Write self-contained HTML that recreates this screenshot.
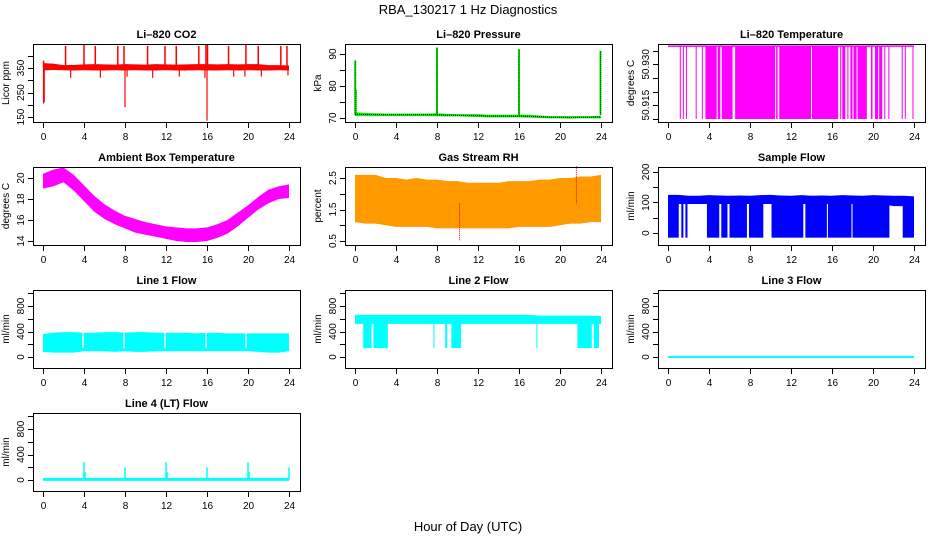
<!DOCTYPE html>
<html><head><meta charset="utf-8"><style>
html,body{margin:0;padding:0;background:#fff;}
svg{display:block;font-family:"Liberation Sans",Arial,sans-serif;}
</style></head><body>
<svg id="chart" width="936" height="540" viewBox="0 0 936 540" xmlns="http://www.w3.org/2000/svg">
<text x="468" y="14" text-anchor="middle" font-size="13">RBA_130217  1 Hz Diagnostics</text>
<text x="468" y="531" text-anchor="middle" font-size="13">Hour of Day (UTC)</text>
</svg>
<script>
// ---- data ----
const hours = [0,1,2,3,4,5,6,7,8,9,10,11,12,13,14,15,16,17,18,19,20,21,22,23,24];
const xTicks = [0,4,8,12,16,20,24];

const co2Lo = [340,342,341,340,341,340,340,341,340,341,340,340,341,340,340,341,340,340,341,340,341,340,340,341,340];
const co2Hi = [370,368,362,363,365,366,365,364,366,365,364,366,365,364,365,366,366,365,366,365,366,366,362,362,360];
const co2SpikeT = [0.05,2.2,4.0,5.1,7.3,7.9,10.2,11.9,13.0,15.2,15.9,16.05,18.1,19.8,21.0,23.2,23.8];
const co2SpikeV = [380,440,445,440,440,440,440,440,440,440,445,445,440,445,440,440,440];
const co2DipT = [0.05,0.12,8.0,16.0,2.7,5.6,8.2,10.7,13.3,15.8,18.6,19.7,21.3,23.9];
const co2DipV = [205,210,190,135,310,310,315,310,315,310,315,315,315,320];

const presLo = [70.6,70.6,70.6,70.6,70.6,70.6,70.6,70.6,70.5,70.5,70.5,70.4,70.3,70.2,70.2,70.2,70.2,70.1,70.0,69.9,69.9,69.8,69.9,69.9,69.9];
const presHi = [71.8,71.6,71.5,71.4,71.4,71.4,71.4,71.4,71.5,71.3,71.2,71.2,71.2,71.0,71.0,71.0,71.0,71.0,70.8,70.6,70.6,70.6,70.6,70.6,70.7];
const presSpikeT = [0.02,0.08,8.0,16.0,23.95];
const presSpikeV = [88,79,92,91.5,91];

const tempTop = 50.9367;
const tempBottom = 50.9099;
const tempBlocks = [[1.15,1.25],[1.45,1.55],[1.75,1.85],[2.7,2.75],[3.3,3.35],[3.65,4.75],[4.85,5.1],[5.25,6.3],[6.55,10.45],[10.55,10.7],[10.85,13.95],[14.05,16.6],[16.8,16.9],[17.0,17.3],[17.5,17.6],[17.8,18.0],[18.1,18.4],[18.5,19.4],[19.8,19.95],[20.2,20.5],[20.6,20.9],[21.1,21.2],[21.5,21.6],[22.8,22.9],[23.1,23.2],[23.85,23.95]];

const ambLo = [19.0,19.2,19.6,18.8,17.8,16.8,16.1,15.6,15.2,14.8,14.6,14.4,14.2,14.0,13.9,13.9,14.0,14.3,14.7,15.4,16.2,17.0,17.6,18.0,18.1];
const ambHi = [20.4,20.8,21.0,20.3,19.3,18.3,17.5,16.9,16.4,16.1,15.8,15.6,15.4,15.3,15.2,15.2,15.3,15.6,16.0,16.7,17.4,18.2,18.9,19.2,19.4];

const rhLo = [1.1,1.05,1.05,1.0,0.95,0.95,0.95,0.95,0.9,0.9,0.9,0.9,0.9,0.9,0.9,0.9,0.95,0.95,0.95,0.95,1.0,1.05,1.05,1.1,1.1];
const rhHi = [2.6,2.6,2.6,2.5,2.5,2.45,2.5,2.45,2.45,2.4,2.4,2.35,2.35,2.35,2.35,2.4,2.4,2.4,2.45,2.45,2.5,2.5,2.55,2.55,2.6];
const rhSpikeT = [10.2,21.6];
const rhSpikeV = [0.5,2.9];

const sfHi = [125,125,122,122,124,123,122,123,122,124,125,123,122,124,122,123,122,124,123,122,124,123,122,122,120];
const sfLo = [95,95,95,95,95,95,95,95,95,95,95,95,95,95,95,95,95,95,95,95,95,95,88,88,95];
const sfBursts = [[0,1.05],[1.3,1.5],[1.7,1.9],[3.8,5.0],[5.2,5.8],[6.0,7.7],[7.9,9.3],[10.1,13.2],[13.4,15.5],[15.6,17.9],[18.0,21.6],[22.9,24]];
const sfBurstLow = -15;

const l1Lo = [80,70,70,70,90,90,90,80,90,80,80,90,90,90,90,90,90,90,90,90,90,80,70,70,90];
const l1Hi = [360,380,390,390,380,380,390,390,380,390,390,380,380,380,380,370,380,380,370,370,370,370,370,370,370];
const l1Gaps = [3.9,7.9,11.9,15.9,19.8];

const l2Lo = [520,520,520,520,520,520,520,520,520,520,520,520,520,520,520,520,520,520,520,520,520,520,520,520,520];
const l2Hi = [660,660,660,660,660,660,660,660,660,660,660,660,660,660,660,660,660,660,650,650,650,650,650,650,640];
const l2Drops = [[0.8,1.6],[1.8,3.2],[7.65,7.7],[8.8,9.0],[9.4,10.35],[17.7,17.75],[21.7,23.1],[23.3,23.8]];
const l2DropLow = 140;

const l3Value = [0,0,0,0,0,0,0,0,0,0,0,0,0,0,0,0,0,0,0,0,0,0,0,0,0];

const l4Base = [10,10,10,10,10,10,10,10,10,10,10,10,10,10,10,10,10,10,10,10,10,10,10,10,10];
const l4SpikeT = [4.0,4.1,8.0,12.0,12.1,16.0,20.0,20.1,24.0];
const l4SpikeV = [280,130,200,280,130,200,280,130,200];

// ---- layout ----
const svg = document.getElementById('chart');
const NS = 'http://www.w3.org/2000/svg';
const colL = [33,345,658], rowT = [44,167,290,413], BW = 267, BH = 78;
function mk(tag, attrs, parent){
  const e = document.createElementNS(NS, tag);
  for (const k in attrs) e.setAttribute(k, attrs[k]);
  (parent||svg).appendChild(e);
  return e;
}
function panel(key, title, ylab, col, row, ylim, ticks, labels){
  const L = colL[col], T = rowT[row];
  const g = mk('g', {});
  
  
  const xs = h => L + 10 + h * 10.25;
  const ys = v => T + BH - (v - ylim[0]) / (ylim[1] - ylim[0]) * BH;
  const t = mk('text', {x: L + BW/2, y: T - 6, 'text-anchor': 'middle', 'font-size': 11, 'font-weight': 'bold'}, g);
  t.textContent = title;
  
  
  const yl = mk('text', {x: 0, y: 0, transform: `translate(${L-24},${T+BH/2}) rotate(-90)`, 'text-anchor': 'middle', 'font-size': 10}, g);
  yl.textContent = ylab;
  
  
  const plot = mk('g', {}, g);
  
  
  const ax = mk('g', {stroke: '#000', 'stroke-width': 1, fill: 'none'}, g);
  
  
  const box = mk('rect', {x: L+0.5, y: T+0.5, width: BW, height: BH}, ax);
  
  
  mk('line', {x1: xs(0), x2: xs(24), y1: T+BH+0.5, y2: T+BH+0.5}, ax);
  xTicks.forEach(v => {
    const x = Math.round(xs(v)) + 0.5;
    mk('line', {x1: x, x2: x, y1: T+BH, y2: T+BH+6}, ax);
    const tl = mk('text', {x: x, y: T+BH+18, 'text-anchor': 'middle', 'font-size': 10, fill: '#000', stroke: 'none'}, g);
    tl.textContent = v;
    
    
  });
  ticks.forEach(v => {
    const y = Math.round(ys(v)) + 0.5;
    mk('line', {x1: L-5, x2: L, y1: y, y2: y}, ax);
  });
  labels.forEach(v => {
    const y = ys(v);
    const tl = mk('text', {x: 0, y: 0, transform: `translate(${L-9},${y}) rotate(-90)`, 'text-anchor': 'middle', 'font-size': 10, fill: '#000', stroke: 'none'}, g);
    tl.textContent = v;
    
    
  });
  return {xs, ys, g: plot};
}
function band(p, lo, hi, fill, name){
  let pts = hours.map((h,i) => p.xs(h)+','+p.ys(hi[i]));
  pts = pts.concat(hours.slice().reverse().map((h,j) => p.xs(h)+','+p.ys(lo[hours.length-1-j])));
  const e = mk('polygon', {points: pts.join(' '), fill: fill}, p.g);
  
  
}
function vline(p, h, v0, v1, color, w, name, dash){
  const a = {x1: p.xs(h), x2: p.xs(h), y1: p.ys(v0), y2: p.ys(v1), stroke: color, 'stroke-width': w||1.2};
  if (dash) a['stroke-dasharray'] = dash;
  const e = mk('line', a, p.g);
  
  
}
function rectI(p, a, b, v0, v1, fill, name){
  const e = mk('rect', {x: p.xs(a), y: p.ys(v1), width: Math.max(1, p.xs(b)-p.xs(a)), height: p.ys(v0)-p.ys(v1), fill: fill}, p.g);
  
  
}

// CO2
const pC = panel('co2', 'Li\u2013820 CO2', 'Licor ppm', 0, 0, [129.6, 448], [150,200,250,300,350,400], [150,250,350]);
band(pC, co2Lo, co2Hi, '#ff0000', 'co2-band');
co2SpikeT.forEach((h,i) => vline(pC, h, 350, co2SpikeV[i], '#ff0000', 1.5, 'co2-spike'));
co2DipT.forEach((h,i) => vline(pC, h, 345, co2DipV[i], '#ff0000', 1.2, 'co2-dip'));

// Pressure
const pP = panel('pressure', 'Li\u2013820 Pressure', 'kPa', 1, 0, [68.75, 93.125], [70,75,80,85,90], [70,80,90]);
band(pP, presLo, presHi, '#00ee00', 'pressure-band');
presSpikeT.forEach((h,i) => { vline(pP, h, 71, presSpikeV[i], '#00ee00', 2, 'pressure-spike'); vline(pP, h, 71, presSpikeV[i], '#000', 0.8, 'pressure-spike-dots', '1,1'); });
{
  const pts = hours.map((h,i) => pP.xs(h)+','+pP.ys((presLo[i]+presHi[i])/2)).join(' ');
  const e = mk('polyline', {points: pts, fill: 'none', stroke: '#000', 'stroke-width': 1, 'stroke-dasharray': '1,1'}, pP.g);
  
  
}

// Li-820 temperature
const pT = panel('li820-temp', 'Li\u2013820 Temperature', 'degrees C', 2, 0, [50.9088, 50.9375], [50.910,50.915,50.920,50.925,50.930,50.935], ['50.915','50.930']);
{
  const e = mk('line', {x1: pT.xs(0), x2: pT.xs(24), y1: pT.ys(tempTop), y2: pT.ys(tempTop), stroke: '#ff00ff', 'stroke-width': 1.5}, pT.g);
  
  
}
tempBlocks.forEach(b => rectI(pT, b[0], b[1], tempBottom, tempTop, '#ff00ff', 'temp-block'));

// Ambient
const pA = panel('ambient', 'Ambient Box Temperature', 'degrees C', 0, 1, [13.62, 21.05], [14,16,18,20], [14,16,18,20]);
band(pA, ambLo, ambHi, '#ff00ff', 'ambient-band');

// RH
const pR = panel('rh', 'Gas Stream RH', 'percent', 1, 1, [0.373, 2.85], [0.5,1,1.5,2,2.5], ['0.5','1.5','2.5']);
band(pR, rhLo, rhHi, '#ff9a00', 'rh-band');
rhSpikeT.forEach((h,i) => vline(pR, h, 1.7, rhSpikeV[i], '#ff0000', 1, 'rh-spike', '1,1'));

// Sample flow
const pS = panel('sample-flow', 'Sample Flow', 'ml/min', 2, 1, [-39, 216], [0,50,100,150,200], [0,100,200]);
band(pS, sfLo, sfHi, '#0000ff', 'sample-flow-band');
sfBursts.forEach(b => rectI(pS, b[0], b[1], sfBurstLow, 100, '#0000ff', 'sample-flow-burst'));

// Line 1
const p1 = panel('line1', 'Line 1 Flow', 'ml/min', 0, 2, [-172, 1051], [0,200,400,600,800,1000], [0,400,800]);
band(p1, l1Lo, l1Hi, '#00ffff', 'line1-band');
l1Gaps.forEach(h => vline(p1, h, 140, 390, '#ffffff', 1.5, 'line1-gap'));

// Line 2
const p2 = panel('line2', 'Line 2 Flow', 'ml/min', 1, 2, [-172, 1051], [0,200,400,600,800,1000], [0,400,800]);
band(p2, l2Lo, l2Hi, '#00ffff', 'line2-band');
l2Drops.forEach(b => rectI(p2, b[0], b[1], l2DropLow, 540, '#00ffff', 'line2-drop'));

// Line 3
const p3 = panel('line3', 'Line 3 Flow', 'ml/min', 2, 2, [-172, 1051], [0,200,400,600,800,1000], [0,400,800]);
{
  const pts = hours.map((h,i) => p3.xs(h)+','+p3.ys(l3Value[i])).join(' ');
  const e = mk('polyline', {points: pts, fill: 'none', stroke: '#00ffff', 'stroke-width': 2}, p3.g);
  
  
}

// Line 4
const p4 = panel('line4', 'Line 4 (LT) Flow', 'ml/min', 0, 3, [-172, 1051], [0,200,400,600,800,1000], [0,400,800]);
{
  const pts = hours.map((h,i) => p4.xs(h)+','+p4.ys(l4Base[i])).join(' ');
  const e = mk('polyline', {points: pts, fill: 'none', stroke: '#00ffff', 'stroke-width': 3}, p4.g);
  
  
}
l4SpikeT.forEach((h,i) => vline(p4, h, 10, l4SpikeV[i], '#00ffff', 1.5, 'line4-spike'));
</script>
</body></html>
